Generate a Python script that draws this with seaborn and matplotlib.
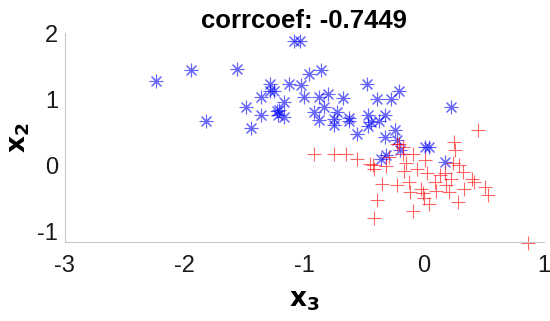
import numpy as np
import pandas as pd
import matplotlib
matplotlib.use("Agg")
import matplotlib.pyplot as plt
import seaborn as sns

# class 1 (blue asterisks)
blue_x3 = [-2.24, -1.95, -1.82, -1.56, -1.49, -1.45, -1.36, -1.36, -1.29, -1.29,
           -1.25, -1.23, -1.21, -1.22, -1.17, -1.17, -1.13, -1.09, -1.04, -1.03,
           -1.00, -0.96, -0.92, -0.88, -0.88, -0.86, -0.84, -0.80, -0.75, -0.75,
           -0.73, -0.68, -0.63, -0.63, -0.56, -0.48, -0.47, -0.47, -0.44, -0.39,
           -0.38, -0.33, -0.28, -0.21, -0.24, -0.33, -0.32, -0.36, -0.23, -0.20,
           0.01, 0.04, 0.17, 0.22]
blue_x2 = [1.28, 1.45, 0.68, 1.46, 0.88, 0.56, 1.04, 0.76, 1.24, 1.13,
           1.13, 0.82, 0.84, 0.76, 0.96, 0.74, 1.23, 1.88, 1.88, 1.22,
           1.04, 1.38, 0.81, 1.03, 0.69, 1.44, 0.89, 1.08, 0.71, 0.61,
           0.81, 1.02, 0.72, 0.68, 0.47, 1.23, 0.76, 0.60, 0.66, 1.00,
           0.68, 0.76, 1.00, 1.12, 0.54, 0.43, 0.16, 0.09, 0.38, 0.23,
           0.28, 0.28, 0.05, 0.88]

# class 2 (red pluses)
red_x3 = [-0.92, -0.75, -0.65, -0.56, -0.45, -0.42, -0.42, -0.39, -0.35, -0.32,
          -0.29, -0.23, -0.21, -0.18, -0.17, -0.15, -0.13, -0.12, -0.09, -0.09,
          -0.06, -0.03, -0.01, 0.00, 0.01, 0.02, 0.04, 0.10, 0.13, 0.17,
          0.18, 0.22, 0.24, 0.25, 0.26, 0.28, 0.29, 0.32, 0.33, 0.40,
          0.42, 0.45, 0.51, 0.53, 0.87, -0.18, -0.23, -0.43, 0.21, 0.09]
red_x2 = [0.17, 0.17, 0.17, 0.09, 0.02, -0.05, -0.80, -0.52, -0.28, -0.01,
          0.13, -0.30, 0.33, 0.18, -0.08, 0.03, -0.25, -0.40, -0.69, 0.18,
          -0.06, -0.36, -0.42, -0.50, 0.08, -0.12, -0.58, -0.38, -0.15, -0.12,
          -0.30, -0.20, 0.03, 0.36, 0.23, -0.55, 0.01, -0.10, -0.35, -0.20,
          -0.25, 0.54, -0.32, -0.45, -1.17, 0.28, 0.32, 0.00, -0.40, -0.25]

corr_label = "corrcoef: -0.7449"

sns.set_style("white")
plt.rcParams["font.family"] = ["Liberation Sans", "DejaVu Sans"]

fig = plt.figure(figsize=(5.5, 3.21), dpi=100)
ax = fig.add_axes([0.118, 0.246, 0.871, 0.650])

sns.scatterplot(x=blue_x3, y=blue_x2, marker=(8, 2, 0), color=(0, 0, 1),
                s=85, linewidth=0.8, alpha=0.6, ax=ax)
sns.scatterplot(x=red_x3, y=red_x2, marker="+", color=(1, 0, 0),
                s=95, linewidth=0.8, alpha=0.6, ax=ax)
for coll in ax.collections:
    coll.set_clip_on(False)

ax.set_xlim(-3, 1)
ax.set_ylim(-1.16, 2)
ax.set_xticks([-3, -2, -1, 0, 1])
ax.set_yticks([-1, 0, 1, 2])
ax.set_xticklabels(["-3", "-2", "-1", "0", "1"])
ax.set_yticklabels(["-1", "0", "1", "2"])

for side in ["top", "right"]:
    ax.spines[side].set_visible(False)
for side in ["left", "bottom"]:
    ax.spines[side].set_color("#c8c8c8")
    ax.spines[side].set_linewidth(0.8)

ax.tick_params(direction="in", length=4, width=0.8, color="#c8c8c8",
               labelsize=17, labelcolor="#1a1a1a")
ax.tick_params(axis="x", pad=9)
ax.tick_params(axis="y", pad=5)

ax.set_title(corr_label, fontsize=18.5, fontweight="bold", pad=4, color="black")
ax.set_xlabel(r"$\mathbf{x_3}$", fontsize=19, labelpad=9, color="black")
ax.set_ylabel(r"$\mathbf{x_2}$", fontsize=19, labelpad=4, color="black")

fig.savefig("out.png", dpi=100)
